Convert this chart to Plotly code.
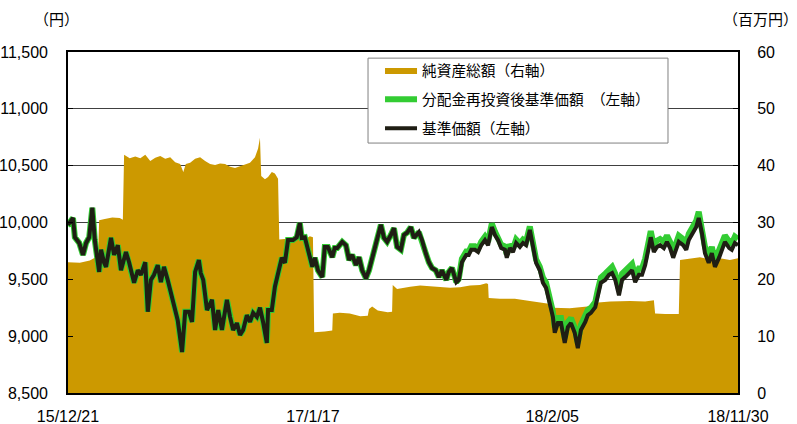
import pandas as pd
import plotly.graph_objects as go

START = pd.Timestamp("2015-12-21")
END = pd.Timestamp("2018-11-30")

# --- line series: day offsets from START ---
line_days = [
    0,
    2, 8, 11, 18, 24, 29, 34, 39, 43, 50,
    53, 58, 61, 69, 74, 80, 85, 93, 98, 106,
    112, 117, 124, 128, 133, 138, 144, 149, 154, 160,
    165, 170, 176, 183, 188, 194, 199, 204, 210, 213,
    217, 223, 231, 236, 241, 247, 255, 260, 265, 271,
    276, 281, 287, 292, 297, 303, 308, 313, 319, 321,
    327, 332, 337, 343, 348, 353, 361, 367, 372, 375,
    380, 385, 392, 396, 401, 408, 412, 417, 424, 428,
    432, 440, 446, 451, 456, 462, 467, 472, 478, 483,
    488, 494, 502, 507, 512, 518, 523, 528, 534, 539,
    544, 550, 555, 563, 568, 574, 579, 584, 590, 595,
    600, 607, 611, 616, 623, 627, 632, 639, 643, 647,
    653, 658, 663, 669, 674, 680, 685, 690, 695, 701,
    704, 709, 714, 719, 725, 730, 735, 741, 746, 751,
    757, 762, 767, 773, 778, 781, 786, 791, 797, 802,
    807, 813, 818, 823, 830, 834, 839, 846, 850, 855,
    862, 868, 873, 878, 884, 889, 894, 900, 905, 910,
    916, 921, 926, 932, 935, 940, 945, 950, 956, 961,
    966, 971, 976, 980, 987, 992, 996, 1003, 1008, 1012,
    1017, 1022, 1028, 1033, 1038, 1045, 1049, 1054, 1061, 1065,
    1070, 1075,
]

nav = [
    10005,
    9995, 10040, 9870, 9820, 9715, 9820, 9870, 10130, 9845, 9565,
    9760, 9645, 9610, 9865, 9715, 9800, 9580, 9740, 9650, 9470,
    9580, 9540, 9650, 9215, 9495, 9540, 9625, 9475, 9610, 9495,
    9380, 9275, 9140, 8860, 9215, 9215, 9125, 9565, 9670, 9555,
    9495, 9230, 9320, 9055, 9230, 9055, 9320, 9170, 9055, 9115,
    9010, 9055, 9185, 9125, 9205, 9170, 9250, 9125, 8940, 9230,
    9230, 9435, 9555, 9690, 9645, 9845, 9845, 9870, 9995, 9865,
    9870, 9760, 9610, 9690, 9580, 9520, 9785, 9785, 9695, 9775,
    9775, 9830, 9800, 9670, 9715, 9625, 9695, 9580, 9510, 9580,
    9695, 9800, 9980, 9865, 9830, 9890, 9950, 9785, 9760, 9890,
    9910, 9960, 9865, 9915, 9845, 9730, 9650, 9600, 9580, 9520,
    9580, 9495, 9565, 9600, 9475, 9495, 9650, 9715, 9715, 9760,
    9760, 9740, 9800, 9845, 9800, 9960, 9890, 9845, 9775, 9760,
    9690, 9775, 9740, 9820, 9785, 9820, 9800, 9935, 9785, 9645,
    9580, 9470, 9425, 9290, 9170, 9030, 9115, 9115, 8940, 9080,
    9115, 9030, 8895, 9055, 9125, 9185, 9205, 9255, 9360, 9470,
    9495, 9540, 9555, 9495, 9360, 9495, 9520, 9555, 9580, 9475,
    9540, 9540, 9625, 9785, 9870, 9740, 9785, 9800, 9775, 9830,
    9775, 9690, 9785, 9830, 9800, 9760, 9845, 9910, 9960, 10040,
    9910, 9730, 9645, 9730, 9610, 9695, 9760, 9830, 9775, 9760,
    9820, 9800,
]

nav_reinvested = [
    10005,
    9995, 10040, 9870, 9820, 9715, 9820, 9870, 10130, 9845, 9565,
    9760, 9645, 9610, 9865, 9715, 9800, 9580, 9740, 9650, 9470,
    9580, 9540, 9650, 9215, 9495, 9540, 9625, 9475, 9610, 9495,
    9380, 9275, 9140, 8860, 9215, 9215, 9125, 9565, 9670, 9555,
    9495, 9230, 9320, 9055, 9230, 9055, 9320, 9170, 9055, 9115,
    9010, 9055, 9185, 9125, 9205, 9170, 9250, 9125, 8940, 9230,
    9230, 9435, 9555, 9690, 9645, 9845, 9845, 9870, 9995, 9865,
    9870, 9760, 9610, 9690, 9580, 9520, 9785, 9785, 9695, 9775,
    9775, 9830, 9800, 9670, 9715, 9625, 9695, 9580, 9510, 9580,
    9695, 9800, 9980, 9865, 9830, 9890, 9950, 9785, 9760, 9890,
    9910, 9960, 9865, 9915, 9845, 9730, 9650, 9600, 9580, 9520,
    9580, 9495, 9565, 9600, 9475, 9505, 9680, 9745, 9745, 9790,
    9790, 9770, 9830, 9875, 9830, 9990, 9920, 9875, 9805, 9790,
    9720, 9805, 9770, 9850, 9815, 9850, 9830, 9965, 9815, 9675,
    9610, 9515, 9470, 9335, 9215, 9075, 9160, 9160, 8985, 9125,
    9160, 9075, 8940, 9100, 9170, 9230, 9250, 9300, 9405, 9515,
    9550, 9595, 9610, 9550, 9415, 9550, 9575, 9610, 9635, 9530,
    9595, 9595, 9680, 9840, 9925, 9795, 9840, 9855, 9830, 9885,
    9830, 9745, 9840, 9885, 9855, 9815, 9900, 9965, 10015, 10095,
    9965, 9785, 9700, 9785, 9665, 9750, 9815, 9885, 9830, 9815,
    9875, 9855,
]

# --- net assets (million yen), own day offsets ---
asset_days = [
    0, 19, 35, 43, 48, 50, 59, 71, 83, 88,
    90, 99, 108, 116, 124, 132, 140, 148, 156, 164,
    172, 180, 185, 189, 196, 204, 212, 220, 228, 236,
    244, 252, 260, 268, 276, 284, 292, 300, 305, 308,
    310, 316, 321, 327, 332, 337, 339, 356, 372, 380,
    388, 393, 395, 412, 424, 425, 436, 452, 469, 481,
    483, 488, 497, 513, 520, 521, 528, 549, 565, 581,
    597, 613, 629, 645, 661, 671, 674, 675, 693, 717,
    741, 757, 777, 778, 805, 821, 841, 846, 870, 902,
    926, 940, 942, 958, 980, 982, 998, 1014, 1030, 1046,
    1062, 1075,
]
net_assets = [
    23.0, 22.9, 23.3, 23.8, 23.6, 30.4, 30.6, 30.9, 30.8, 30.5,
    41.9, 41.3, 41.6, 41.3, 41.9, 40.8, 41.4, 41.7, 41.2, 41.5,
    40.6, 40.3, 38.9, 40.3, 40.5, 41.2, 41.5, 40.8, 40.3, 40.1,
    40.4, 40.3, 39.8, 39.6, 39.9, 40.2, 40.5, 41.5, 43.0, 44.9,
    38.2, 37.6, 38.0, 38.9, 38.6, 37.7, 27.0, 27.2, 27.3, 27.0,
    27.6, 27.4, 10.7, 10.8, 11.0, 14.0, 14.1, 14.0, 13.5, 13.6,
    14.8, 15.2, 14.5, 14.2, 14.3, 19.0, 18.3, 18.7, 18.9, 18.8,
    18.7, 18.5, 18.6, 18.9, 19.0, 19.3, 19.2, 16.7, 16.6, 16.6,
    16.2, 15.9, 15.6, 15.0, 14.9, 15.1, 15.3, 15.9, 16.1, 16.2,
    16.1, 16.3, 14.0, 13.9, 13.9, 23.4, 23.7, 23.9, 23.5, 23.7,
    23.4, 23.7,
]

tick_dates = ["2015-12-21", "2017-01-17", "2018-02-05", "2018-11-30"]
tick_labels = ["15/12/21", "17/1/17", "18/2/05", "18/11/30"]

assert len(line_days) == len(nav) == len(nav_reinvested)
assert len(asset_days) == len(net_assets)

x_line = START + pd.to_timedelta(line_days, unit="D")
x_asset = START + pd.to_timedelta(asset_days, unit="D")

FONT = "Liberation Sans, Arial, 'Noto Sans CJK JP', sans-serif"
GOLD = "#CC9900"
GREEN = "#33CC33"
BLACK = "#1F1E14"

fig = go.Figure()
# net assets on the primary (right-side) axis so it is drawn beneath the lines
fig.add_trace(go.Scatter(
    x=x_asset, y=net_assets, name="純資産総額（右軸）", yaxis="y",
    mode="lines", line=dict(color=GOLD, width=0), fill="tozeroy",
    fillcolor=GOLD, legendgroup="a",
))
fig.add_trace(go.Scatter(
    x=x_line, y=nav_reinvested, name="分配金再投資後基準価額　（左軸）",
    yaxis="y2", mode="lines", line=dict(color=GREEN, width=6),
    legendgroup="b",
))
fig.add_trace(go.Scatter(
    x=x_line, y=nav, name="基準価額（左軸）", yaxis="y2",
    mode="lines", line=dict(color=BLACK, width=4), legendgroup="c",
))

fig.update_layout(
    width=797, height=424,
    margin=dict(l=68, r=59, t=52, b=31, autoexpand=False),
    paper_bgcolor="white", plot_bgcolor="white",
    font=dict(family=FONT, size=16, color="black"),
    showlegend=True,
    legend=dict(
        x=0.4657, y=0.994, xanchor="left", yanchor="top",
        bgcolor="rgba(0,0,0,0)", borderwidth=0,
        font=dict(size=14.7, family=FONT), tracegroupgap=7,
        itemwidth=32,
    ),
    shapes=[
        dict(type="rect", xref="paper", yref="paper",
             x0=0.4478, x1=0.8955, y0=0.733, y1=0.982,
             line=dict(color="#808080", width=1), fillcolor="white",
             layer="above"),
    ],
    xaxis=dict(
        type="date", range=[START, END],
        tickvals=tick_dates, ticktext=tick_labels,
        showgrid=False, ticks="", showline=True, linecolor="black",
        linewidth=2, mirror=True, ticklabelstandoff=8,
        tickfont=dict(size=16), automargin=False,
    ),
    yaxis=dict(
        range=[0, 60], dtick=10, side="right",
        showgrid=False, ticks="inside", ticklen=5, tickcolor="black",
        showline=True, linecolor="black", linewidth=2, mirror=True,
        zeroline=False, ticklabelstandoff=14,
        tickfont=dict(size=16), automargin=False,
    ),
    yaxis2=dict(
        range=[8500, 11500], dtick=500, tickformat=",d",
        overlaying="y", side="left",
        showgrid=True, gridcolor="#404040", gridwidth=1,
        ticks="inside", ticklen=5, tickcolor="black",
        showline=False, zeroline=False, ticklabelstandoff=19,
        tickfont=dict(size=16), automargin=False,
    ),
    annotations=[
        dict(text="（円）", xref="paper", yref="paper", x=-0.054, y=1.094,
             xanchor="left", yanchor="middle", showarrow=False,
             font=dict(size=15)),
        dict(text="（百万円）", xref="paper", yref="paper", x=0.974, y=1.094,
             xanchor="left", yanchor="middle", showarrow=False,
             font=dict(size=15)),
    ],
)

fig.write_html(
    "out.html",
    config={"displayModeBar": False},
    post_script="document.body.style.margin='0';document.body.style.padding='0';",
)
